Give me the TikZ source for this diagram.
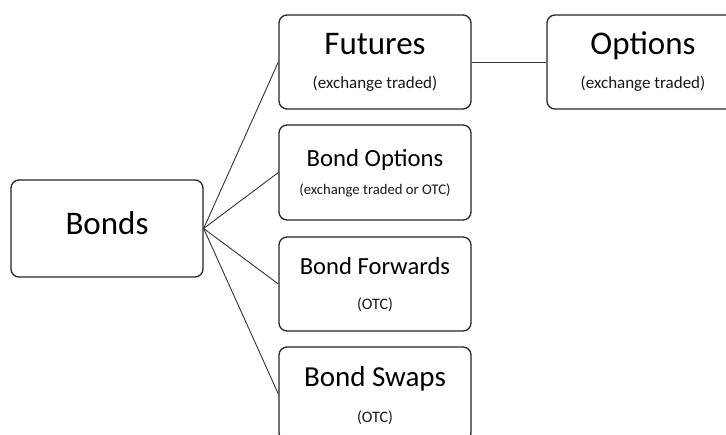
\documentclass[tikz,border=0pt]{standalone}
\usepackage{fontspec}
\setmainfont{Carlito}
\begin{document}
\begin{tikzpicture}[x=1pt,y=-1pt,
  box/.style={draw=black!85, line width=1.3pt, rounded corners=8pt, fill=white,
    minimum width=192pt, minimum height=94pt, inner sep=0pt},
  link/.style={draw=black!80, line width=0.9pt},
  title/.style={anchor=base, inner sep=0pt, text=black},
  note/.style={anchor=base, inner sep=0pt, text=black!90}]
\useasboundingbox (0,0) rectangle (726,435);
\clip (0,0) rectangle (726,435);

% boxes
\node[box, minimum height=97pt] (bonds) at (107,228.5) {};
\node[box] (futures) at (375,62) {};
\node[box] (options) at (643,62) {};
\node[box, minimum height=95pt] (bondopt) at (375,172.5) {};
\node[box] (bondfwd) at (375,284) {};
\node[box] (bondswp) at (375,394) {};

% connectors
\draw[link] (bonds.east) -- (futures.west);
\draw[link] (bonds.east) -- (bondopt.west);
\draw[link] (bonds.east) -- (bondfwd.west);
\draw[link] (bonds.east) -- (bondswp.west);
\draw[link] (futures.east) -- (options.west);

% labels
\node[title, font=\fontsize{33}{33}\selectfont] (bondsT) at (107,235) {Bonds};
\node[title, font=\fontsize{33}{33}\selectfont] (futuresT) at (375,55) {Futures};
\node[note, font=\fontsize{17}{17}\selectfont] (futuresN) at (375,89) {(exchange traded)};
\node[title, font=\fontsize{33}{33}\selectfont] (optionsT) at (643,55) {Options};
\node[note, font=\fontsize{17}{17}\selectfont] (optionsN) at (643,89) {(exchange traded)};
\node[title, font=\fontsize{24.7}{24.7}\selectfont] (bondoptT) at (375,167) {Bond Options};
\node[note, font=\fontsize{14.7}{14.7}\selectfont] (bondoptN) at (375,195) {(exchange traded or OTC)};
\node[title, font=\fontsize{24.6}{24.6}\selectfont] (bondfwdT) at (375,275) {Bond Forwards};
\node[note, font=\fontsize{16}{16}\selectfont] (bondfwdN) at (375,310) {(OTC)};
\node[title, font=\fontsize{29}{29}\selectfont] (bondswpT) at (375,387) {Bond Swaps};
\node[note, font=\fontsize{16}{16}\selectfont] (bondswpN) at (375,423) {(OTC)};
\end{tikzpicture}
\end{document}
